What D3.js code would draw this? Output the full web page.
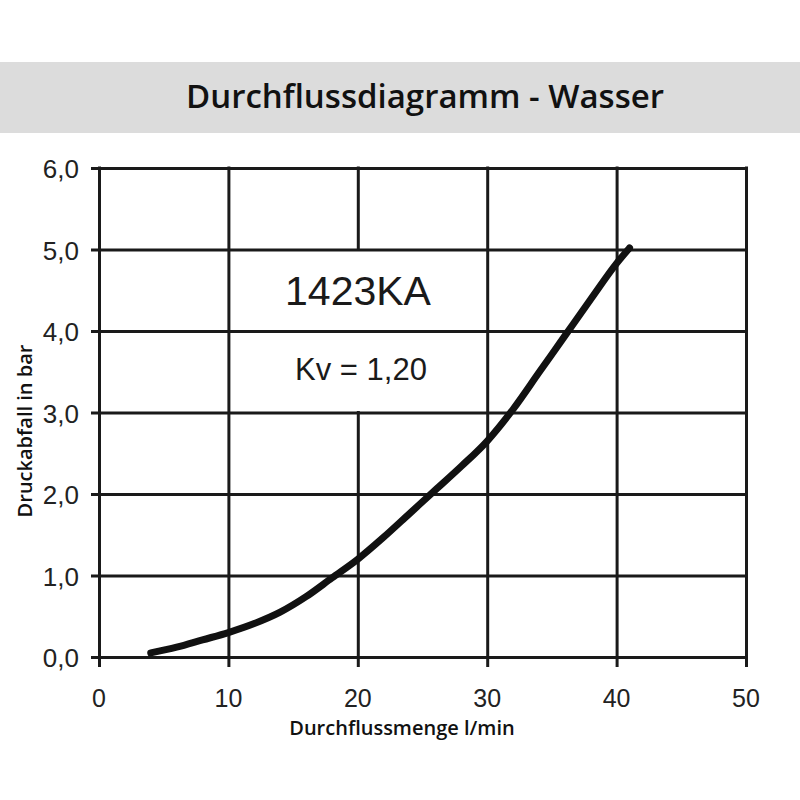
<!DOCTYPE html>
<html>
<head>
<meta charset="utf-8">
<script src="https://cdn.jsdelivr.net/npm/d3@7"></script>
<style>
  html, body { margin: 0; padding: 0; background: #fff; }
</style>
</head>
<body>
<div id="chart"></div>
<script>
// curve (flow in l/min, pressure drop in bar)
const flow = [4, 6, 8, 10, 12, 14, 16, 18, 20, 22, 24, 26, 28, 30, 32, 34, 36, 38, 40, 41];
const pressure = [0.05, 0.12, 0.21, 0.30, 0.41, 0.55, 0.74, 0.97, 1.20, 1.47, 1.76, 2.05, 2.34, 2.65, 3.04, 3.49, 3.94, 4.39, 4.83, 5.02];

const xTicks = [0, 10, 20, 30, 40, 50];
const yTicks = [0, 1, 2, 3, 4, 5, 6];

const title = 'Durchflussdiagramm - Wasser';
const xLabel = 'Durchflussmenge l/min';
const yLabel = 'Druckabfall in bar';
const modelName = '1423KA';
const kvText = 'Kv = 1,20';

const W = 800, H = 800;
const svg = d3.select('#chart').append('svg')
  .attr('width', W)
  .attr('height', H)
  .attr('viewBox', `0 0 ${W} ${H}`);

// title band
svg.append('rect')
  .attr('x', 0).attr('y', 62)
  .attr('width', W).attr('height', 71)
  .attr('fill', '#dcdcdc');

svg.append('text')
  .attr('x', 425).attr('y', 108)
  .attr('text-anchor', 'middle')
  .attr('font-family', '"Open Sans", sans-serif')
  .attr('font-weight', 600)
  .attr('font-size', '33px')
  .attr('fill', '#111')
  .text(title);

const x = d3.scaleLinear().domain([0, 50]).range([99, 746]);
const y = d3.scaleLinear().domain([0, 6]).range([657, 168]);

const fmt = v => d3.format('.1f')(v).replace('.', ',');

// vertical grid + ticks below
svg.append('g')
  .attr('transform', `translate(0,${y(0)})`)
  .call(d3.axisBottom(x).tickValues(xTicks).tickSize(-(y(0) - y(6))).tickSizeOuter(0).tickFormat(''))
  .call(g => g.select('.domain').remove())
  .call(g => g.selectAll('line').attr('stroke', '#1a1a1a').attr('stroke-width', 3)
    .attr('y2', -(y(0) - y(6)) - 1.5).attr('y1', 10));

// the label box interrupts the 20 l/min grid line between 3 and 5 bar
svg.append('rect')
  .attr('x', x(20) - 3)
  .attr('y', y(5) + 1.5)
  .attr('width', 6)
  .attr('height', y(3) - y(5) - 3)
  .attr('fill', '#fff');

// horizontal grid + ticks left
svg.append('g')
  .attr('transform', `translate(${x(0)},0)`)
  .call(d3.axisLeft(y).tickValues(yTicks).tickSize(-(x(50) - x(0))).tickSizeOuter(0).tickFormat(''))
  .call(g => g.select('.domain').remove())
  .call(g => g.selectAll('line').attr('stroke', '#1a1a1a').attr('stroke-width', 3)
    .attr('x1', -8).attr('x2', x(50) - x(0) + 1.5));

// tick labels
svg.append('g').selectAll('text')
  .data(xTicks)
  .join('text')
  .attr('x', d => x(d))
  .attr('y', 707)
  .attr('text-anchor', 'middle')
  .attr('font-family', '"Liberation Sans", Arial, sans-serif')
  .attr('font-size', '25px')
  .attr('fill', '#222')
  .text(d => d);

svg.append('g').selectAll('text')
  .data(yTicks)
  .join('text')
  .attr('x', 79)
  .attr('y', d => y(d) + 10)
  .attr('text-anchor', 'end')
  .attr('font-family', '"Liberation Sans", Arial, sans-serif')
  .attr('font-size', '26px')
  .attr('fill', '#222')
  .text(d => fmt(d));

// axis titles
svg.append('text')
  .attr('x', 402).attr('y', 735)
  .attr('text-anchor', 'middle')
  .attr('font-family', '"Open Sans", sans-serif')
  .attr('font-weight', 600)
  .attr('font-size', '20px')
  .attr('fill', '#111')
  .text(xLabel);

svg.append('text')
  .attr('transform', 'translate(32,431) rotate(-90)')
  .attr('text-anchor', 'middle')
  .attr('font-family', '"Open Sans", sans-serif')
  .attr('font-weight', 600)
  .attr('font-size', '20px')
  .attr('fill', '#111')
  .text(yLabel);

// annotations
svg.append('text')
  .attr('x', 358).attr('y', 305)
  .attr('text-anchor', 'middle')
  .attr('font-family', '"Liberation Sans", Arial, sans-serif')
  .attr('font-size', '41px')
  .attr('fill', '#1a1a1a')
  .text(modelName);

svg.append('text')
  .attr('x', 361).attr('y', 380)
  .attr('text-anchor', 'middle')
  .attr('font-family', '"Liberation Sans", Arial, sans-serif')
  .attr('font-size', '31px')
  .attr('fill', '#1a1a1a')
  .text(kvText);

// curve
const line = d3.line()
  .x((d, i) => x(flow[i]))
  .y(d => y(d))
  .curve(d3.curveMonotoneX);

svg.append('path')
  .datum(pressure)
  .attr('d', line)
  .attr('fill', 'none')
  .attr('stroke', '#111')
  .attr('stroke-width', 7)
  .attr('stroke-linecap', 'round')
  .attr('stroke-linejoin', 'round');
</script>
</body>
</html>
